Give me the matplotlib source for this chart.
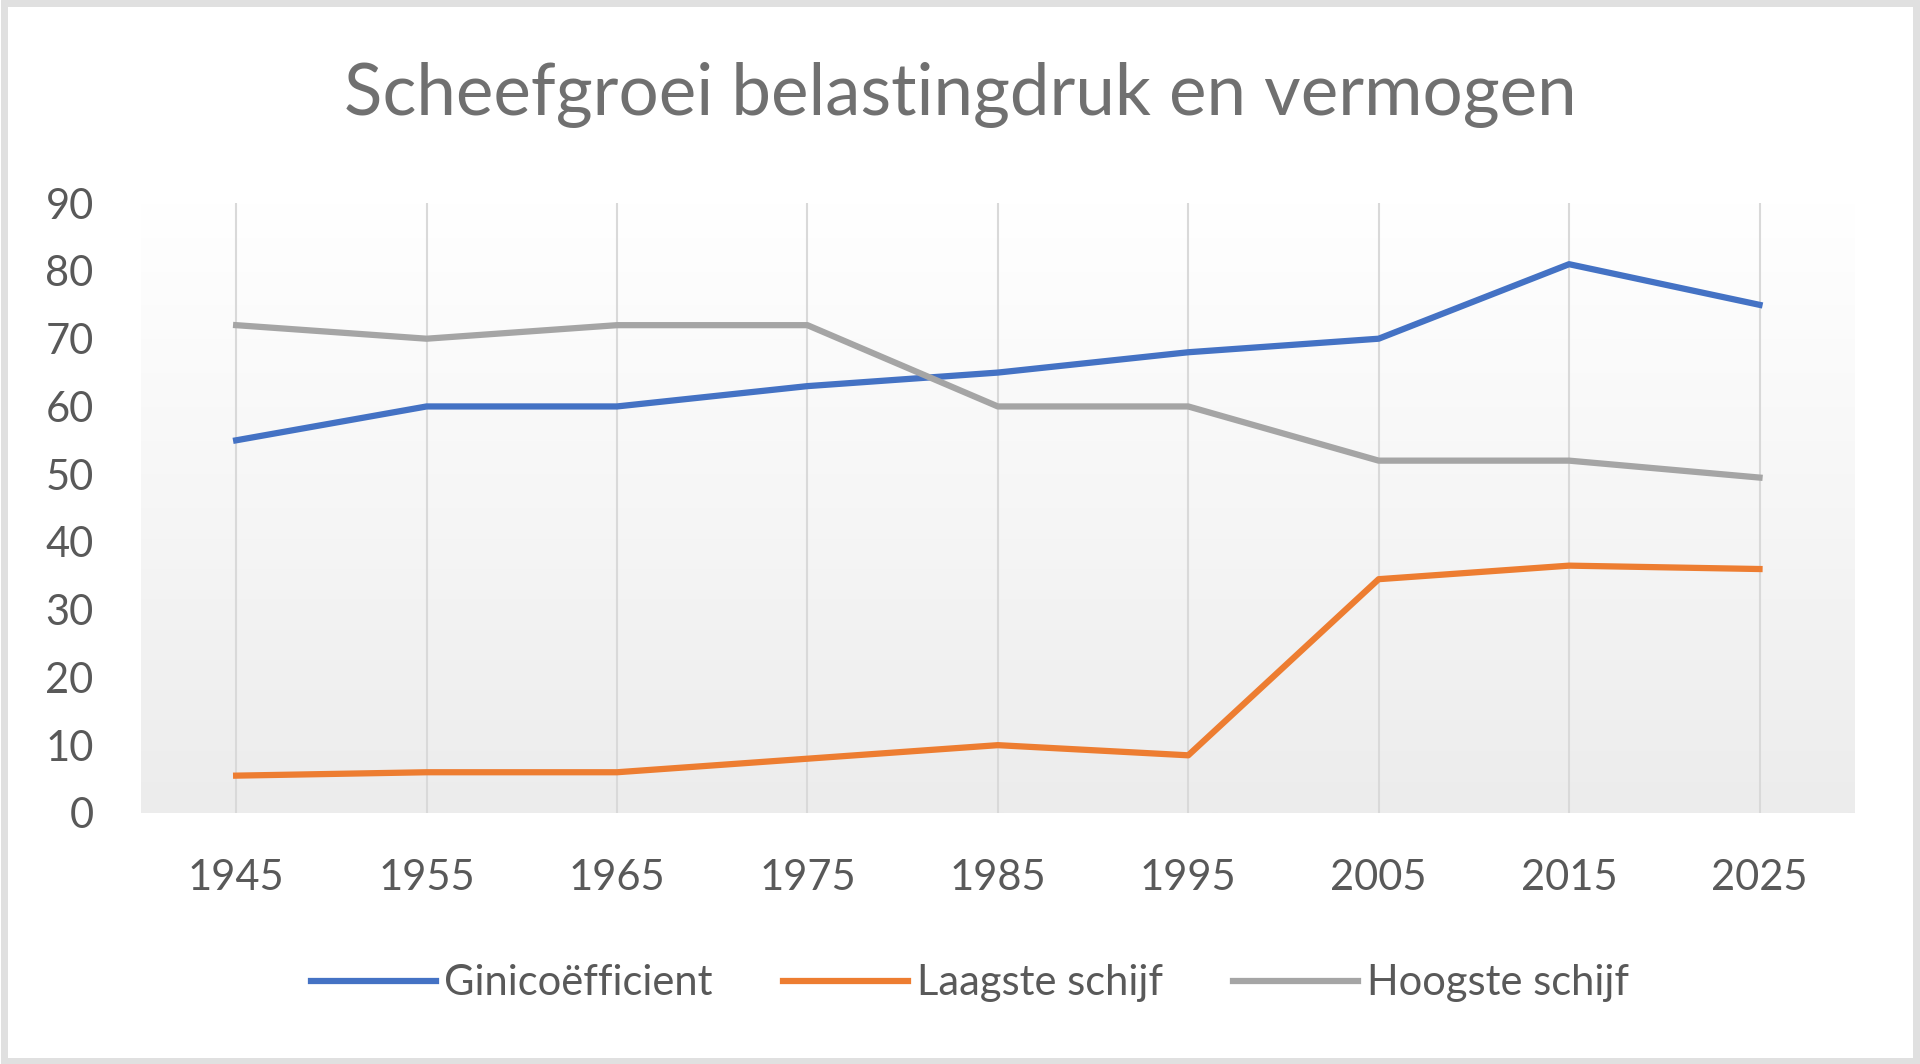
import numpy as np
import matplotlib
matplotlib.use("Agg")
import matplotlib.pyplot as plt
from matplotlib.patches import Rectangle

# Data
years = ["1945", "1955", "1965", "1975", "1985", "1995", "2005", "2015", "2025"]
gini = [55, 60, 60, 63, 65, 68, 70, 81, 75]
laagste = [5.5, 6, 6, 8, 10, 8.5, 34.5, 36.5, 36]
hoogste = [72, 70, 72, 72, 60, 60, 52, 52, 49.5]

series_names = ["Ginicoëfficient", "Laagste schijf", "Hoogste schijf"]
colors = ["#4472C4", "#ED7D31", "#A5A5A5"]
text_color = "#595959"

plt.rcParams['font.family'] = ['Lato', 'DejaVu Sans']

fig = plt.figure(figsize=(19.2, 10.64), dpi=100)
fig.patch.set_facecolor("white")

# light frame around the chart
fig.patches.append(Rectangle((0.002, 0.003), 0.996, 0.994, transform=fig.transFigure,
                             fill=False, edgecolor="#e0e0e0", linewidth=5))

ax = fig.add_axes([0.0734, 0.236, 0.8926, 0.573])

# gradient background of the plot area
grad = np.linspace(0, 1, 256).reshape(-1, 1)
ax.imshow(grad, extent=[0, 1, 0, 1], transform=ax.transAxes, aspect="auto",
          cmap=matplotlib.colors.LinearSegmentedColormap.from_list(
              "bg", ["#ececec", "#f6f6f6", "#ffffff"]),
          origin="lower", zorder=0)

x = np.arange(len(years))
for vals, name, c in zip([gini, laagste, hoogste], series_names, colors):
    ax.plot(x, vals, color=c, linewidth=4.5, label=name, zorder=3)

ax.set_xlim(-0.5, len(years) - 0.5)
ax.set_ylim(0, 90)
ax.set_yticks(range(0, 91, 10))
ax.set_xticks(x)
ax.set_xticklabels(years)

for xi in x:
    ax.axvline(xi, color="#d9d9d9", linewidth=1.5, zorder=1)

for s in ax.spines.values():
    s.set_visible(False)
ax.tick_params(axis="both", length=0, labelsize=30, colors=text_color)
ax.tick_params(axis="y", pad=34)
ax.tick_params(axis="x", pad=33)

fig.text(0.5, 0.911, "Scheefgroei belastingdruk en vermogen", ha="center", va="center",
         fontsize=51, color="#707070")

fig.legend(loc="center", bbox_to_anchor=(0.505, 0.076), ncol=3, frameon=False,
           fontsize=30, handlelength=3.0, columnspacing=1.7, handletextpad=0.2,
           labelcolor=text_color)

fig.savefig("out.png", dpi=100, facecolor="white")
